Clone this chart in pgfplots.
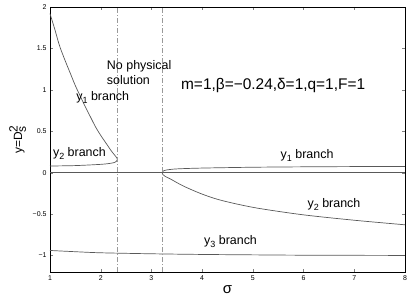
\documentclass[border=0pt]{standalone}
\usepackage{pgfplots}
\pgfplotsset{compat=1.18}
\usepackage{fontspec}
\setmainfont{Liberation Sans}
\tikzset{curve/.style={black!65, line width=0.7pt, mark=none},
  vdash/.style={black!40, line width=0.7pt, mark=none, dash pattern=on 5pt off 2pt on 1pt off 2pt}}
\begin{document}
\begin{tikzpicture}
\path[use as bounding box] (0,0) rectangle (409bp,300bp);
\begin{axis}[
  at={(50bp,28bp)}, anchor=south west,
  scale only axis, width=355bp, height=265bp,
  xmin=1, xmax=8, ymin=-1.2, ymax=2,
  xtick={1,2,3,4,5,6,7,8},
  xticklabels={1,2,3,4,5,6,7,8},
  ytick={-1,-0.5,0,0.5,1,1.5,2},
  yticklabels={−1,−0.5,0,0.5,1,1.5,2},
  tick label style={font=\fontsize{7}{8}\selectfont},
  tick align=inside, major tick length=3bp,
  axis line style={black, line width=0.6pt},
  xlabel={\fontsize{15}{16}\selectfont σ},
  ylabel={\fontsize{12}{14}\selectfont y=D$^{\textnormal{2}}_{\textnormal{s}}$},
  xlabel style={yshift=2bp},
  ylabel style={yshift=0bp},
  clip=false,
]
% zero line
\addplot[curve] coordinates {(1,0) (8,0)};
% y1 left
\addplot[curve, smooth] coordinates {(1,1.92) (1.05,1.82) (1.1,1.72) (1.15,1.61) (1.2,1.51) (1.3,1.35) (1.4,1.20) (1.5,1.05) (1.6,0.92) (1.7,0.79) (1.8,0.67) (1.9,0.55) (2.0,0.45) (2.1,0.36) (2.2,0.27) (2.27,0.215) (2.31,0.185) (2.33,0.16)};
% y2 left
\addplot[curve, smooth] coordinates {(1,0.08) (1.5,0.085) (2.0,0.10) (2.2,0.113) (2.28,0.125) (2.31,0.138) (2.33,0.16)};
% y1 right
\addplot[curve, smooth] coordinates {(3.21,0) (3.23,0.018) (3.3,0.032) (3.5,0.045) (4,0.055) (5,0.065) (6,0.07) (7,0.073) (8,0.075)};
% y2 right
\addplot[curve, smooth] coordinates {(3.21,0) (3.23,-0.025) (3.27,-0.045) (3.37,-0.075) (3.5,-0.12) (3.64,-0.165) (3.96,-0.25) (4.29,-0.32) (4.69,-0.38) (5.15,-0.435) (6,-0.51) (7,-0.575) (8,-0.63)};
% y3
\addplot[curve, smooth] coordinates {(1,-0.94) (1.5,-0.955) (2,-0.968) (3,-0.98) (4,-0.988) (5,-0.993) (6,-0.997) (8,-1.0)};
% dash-dot verticals
\addplot[vdash] coordinates {(2.33,-1.2) (2.33,2)};
\addplot[vdash] coordinates {(3.21,-1.2) (3.21,2)};
\node[align=left, anchor=west, font=\fontsize{12.5}{15}\selectfont, inner sep=0pt] at (axis cs:2.12,1.21) {No physical\\solution};
\node[font=\fontsize{12.5}{14}\selectfont] at (axis cs:2.04,0.91) {y\raisebox{-0.45ex}{\fontsize{9}{10}\selectfont 1} branch};
\node[font=\fontsize{12.5}{14}\selectfont] at (axis cs:1.58,0.23) {y\raisebox{-0.45ex}{\fontsize{9}{10}\selectfont 2} branch};
\node[font=\fontsize{15.5}{17}\selectfont] at (axis cs:5.4,1.05) {m=1,β=−0.24,δ=1,q=1,F=1};
\node[font=\fontsize{12.5}{14}\selectfont] at (axis cs:6.07,0.21) {y\raisebox{-0.45ex}{\fontsize{9}{10}\selectfont 1} branch};
\node[font=\fontsize{12.5}{14}\selectfont] at (axis cs:6.6,-0.39) {y\raisebox{-0.45ex}{\fontsize{9}{10}\selectfont 2} branch};
\node[font=\fontsize{12.5}{14}\selectfont] at (axis cs:4.56,-0.83) {y\raisebox{-0.45ex}{\fontsize{9}{10}\selectfont 3} branch};
\end{axis}
\end{tikzpicture}
\end{document}
